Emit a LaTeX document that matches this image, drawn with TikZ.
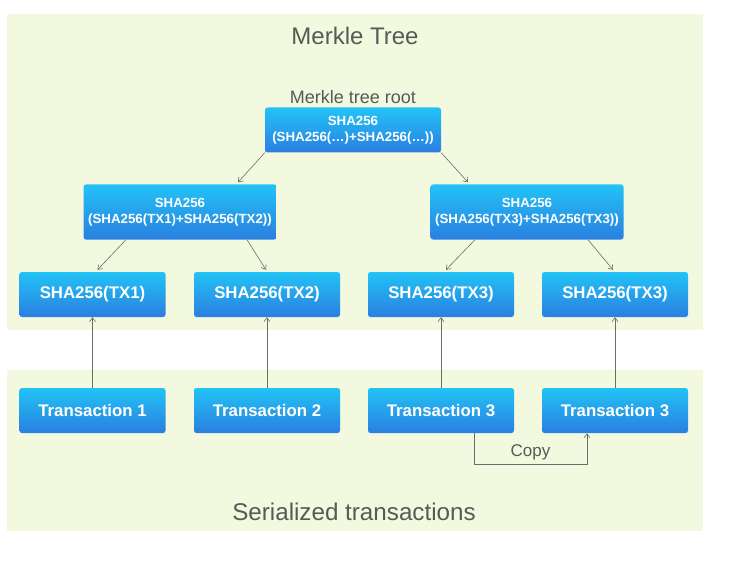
\documentclass[tikz,border=0pt]{standalone}
\usepackage{fontspec}
\setmainfont{Liberation Sans}
\usepackage{tikz}
\usetikzlibrary{arrows.meta,positioning}
\definecolor{PanelBG}{HTML}{F3F9DF}
\definecolor{BoxTop}{HTML}{22C3F6}
\definecolor{BoxBot}{HTML}{2A7FE0}
\definecolor{LabelCol}{HTML}{555B55}
\definecolor{LineCol}{HTML}{6A6E6A}

\begin{document}
\begin{tikzpicture}[x=1pt,y=-1pt,
  every node/.style={text=LabelCol},
  hbox/.style={rounded corners=2.5pt, top color=BoxTop, bottom color=BoxBot,
               draw=none, inner sep=0pt, text=white, align=center,
               font=\bfseries\fontsize{16.8}{20}\selectfont},
  leaf/.style={hbox, minimum width=146, minimum height=45},
  pair/.style={hbox, minimum width=193, minimum height=55,
               font=\bfseries\fontsize{13.3}{16}\selectfont},
  link/.style={draw=LineCol, line width=0.6pt, -{Straight Barb[length=4pt,width=6pt]}},
  >=Stealth]
  \useasboundingbox (0,0) rectangle (733,588);
  % panels
  \fill[PanelBG] (7,14) rectangle (703,330);
  \fill[PanelBG] (7,370) rectangle (703,531);
  \node[font=\fontsize{24}{28}\selectfont] (title) at (355,36) {Merkle Tree};
  \node[font=\fontsize{24.2}{28}\selectfont] (sertitle) at (354,512) {Serialized transactions};
  % tree
  \node[font=\fontsize{18}{21}\selectfont] (roottxt) at (353,97) {Merkle tree root};
  \node[pair, minimum width=176, minimum height=45] (root) at (353,130)
    {SHA256\\(SHA256(\dots)+SHA256(\dots))};
  \node[pair] (h12) at (180,212) {SHA256\\(SHA256(TX1)+SHA256(TX2))};
  \node[pair] (h33) at (527,212) {SHA256\\(SHA256(TX3)+SHA256(TX3))};
  \node[leaf] (l1) at (92.5,294.5) {SHA256(TX1)};
  \node[leaf] (l2) at (267,294.5)  {SHA256(TX2)};
  \node[leaf] (l3) at (441,294.5)  {SHA256(TX3)};
  \node[leaf] (l4) at (615,294.5)  {SHA256(TX3)};
  % transactions
  \node[leaf] (t1) at (92.5,410.5) {Transaction 1};
  \node[leaf] (t2) at (267,410.5)  {Transaction 2};
  \node[leaf] (t3) at (441,410.5)  {Transaction 3};
  \node[leaf] (t4) at (615,410.5)  {Transaction 3};
  \draw[link] (root.south west) -- ([xshift=58,yshift=2]h12.north);
  \draw[link] (root.south east) -- ([xshift=-59,yshift=2]h33.north);
  \draw[link] ([xshift=-54]h12.south) -- ([xshift=5,yshift=2]l1.north);
  \draw[link] ([xshift=67]h12.south) -- ([xshift=-1,yshift=2]l2.north);
  \draw[link] ([xshift=-52]h33.south) -- ([xshift=5,yshift=2]l3.north);
  \draw[link] ([xshift=61]h33.south) -- ([xshift=-2,yshift=2]l4.north);
  \foreach \i in {1,...,4}
    \draw[link] (t\i.north) -- (l\i.south);
  \draw[link] ([xshift=33]t3.south) -- ++(0,31) -|
    node[pos=0.25, above=0.5pt, font=\fontsize{17}{20}\selectfont] (copytxt) {Copy}
    ([xshift=-28]t4.south);
\end{tikzpicture}
\end{document}
